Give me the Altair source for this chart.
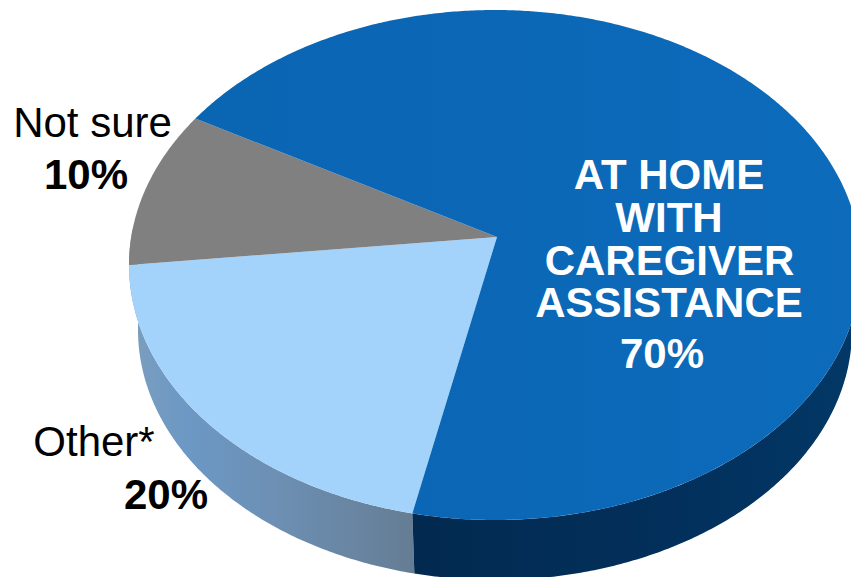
import numpy as np
import pandas as pd
import altair as alt

# Survey shares, drawn clockwise from the front-left edge of the pie
categories = ["Other*", "Not sure", "AT HOME WITH CAREGIVER ASSISTANCE"]
shares = [20, 10, 70]

W, H = 851, 577
START_ANGLE = 191.7     # clockwise from the top of the disc, degrees
TILT_SHIFT = 0.11       # perspective shift of the disc centre

TOP = dict(cx=495.0, cy=265.0, rx=366.0, ry=255.0)
BASE = dict(cx=495.0, cy=330.0, rx=357.0, ry=250.0)


def project(theta_deg, ell, radius=1.0):
    """Map a polar position on the flat disc to the page, with perspective."""
    t = np.radians(theta_deg)
    u, v = radius * np.sin(t), radius * np.cos(t)
    k = TILT_SHIFT
    d = 1 + k * v
    return ell["cx"] + ell["rx"] * u * np.sqrt(1 - k * k) / d, ell["cy"] - ell["ry"] * (v + k) / d


def polygon_frame(xs, ys):
    return pd.DataFrame({"x": xs, "y": ys, "i": np.arange(len(xs))})


def sweep(a, b):
    return np.linspace(a, b, max(int(abs(b - a) * 2), 4))


def ramp(*stops):
    return alt.Gradient(
        gradient="linear", x1=0, x2=1, y1=0, y2=0,
        stops=[alt.GradientStop(offset=o, color=c) for o, c in stops],
    )


x_enc = alt.X("x:Q", scale=alt.Scale(domain=[0, W], range=[0, W]), axis=None)
y_enc = alt.Y("y:Q", scale=alt.Scale(domain=[0, H], range=[0, H]), axis=None)


def filled(df, fill):
    return alt.Chart(df).mark_line(fill=fill, strokeWidth=0, strokeOpacity=0, clip=True, interpolate="linear").encode(
        x=x_enc, y=y_enc, order=alt.Order("i:Q")
    )


# Slice boundaries from the shares
edges = START_ANGLE + np.concatenate([[0], np.cumsum(shares)]) * 3.6

face_fills = [
    "#a3d3fb",
    "#808080",
    ramp((0, "#0a65b3"), (1, "#0d6bbb")),
]

layers = []

# Side wall of the light slice and of the large slice
walls = [
    (
        sweep(edges[0], 272),
        ramp((0, "#7c9ebd"), (0.2, "#6c98c5"), (0.5, "#6d90b4"), (1, "#657d94")),
    ),
    (
        sweep(90, edges[0]),
        ramp((0, "#022a50"), (0.6, "#02305c"), (1, "#033866")),
    ),
]
for arc, fill in walls:
    tx, ty = project(arc, TOP)
    bx, by = project(arc[::-1], BASE)
    layers.append(filled(polygon_frame(np.r_[tx, bx], np.r_[ty, by]), fill))

# Top faces, one wedge per category; the apex sits slightly right of the disc axis
ax, ay = project(0.0, TOP, radius=0.0)
ax += 2
for start, end, fill in zip(edges[:-1], edges[1:], face_fills):
    rx_, ry_ = project(sweep(start, end), TOP)
    layers.append(filled(polygon_frame(np.r_[ax, rx_], np.r_[ay, ry_]), fill))


def text_layer(rows, color, weight):
    df = pd.DataFrame(rows, columns=["x", "y", "t"])
    return alt.Chart(df).mark_text(
        font="Liberation Sans", fontSize=42, fontWeight=weight, color=color,
        align="center", baseline="alphabetic",
    ).encode(x=x_enc, y=y_enc, text="t:N")


pct = [f"{s}%" for s in shares]
layers.append(text_layer([(92.5, 137, "Not sure"), (94, 456, "Other*")], "#000000", "normal"))
layers.append(text_layer([(86, 189, pct[1]), (166, 509, pct[0])], "#000000", "bold"))
layers.append(
    text_layer(
        [
            (669, 189, "AT HOME"),
            (669, 232, "WITH"),
            (669.5, 275, "CAREGIVER"),
            (669, 317, "ASSISTANCE"),
            (662, 368, pct[2]),
        ],
        "#ffffff",
        "bold",
    )
)

chart = (
    alt.layer(*layers)
    .properties(width=W, height=H, padding=0, autosize=alt.AutoSizeParams(type="none"), background="#ffffff")
    .configure_view(stroke=None)
)

chart.save("out.html", embed_options={"renderer": "svg", "actions": False})
